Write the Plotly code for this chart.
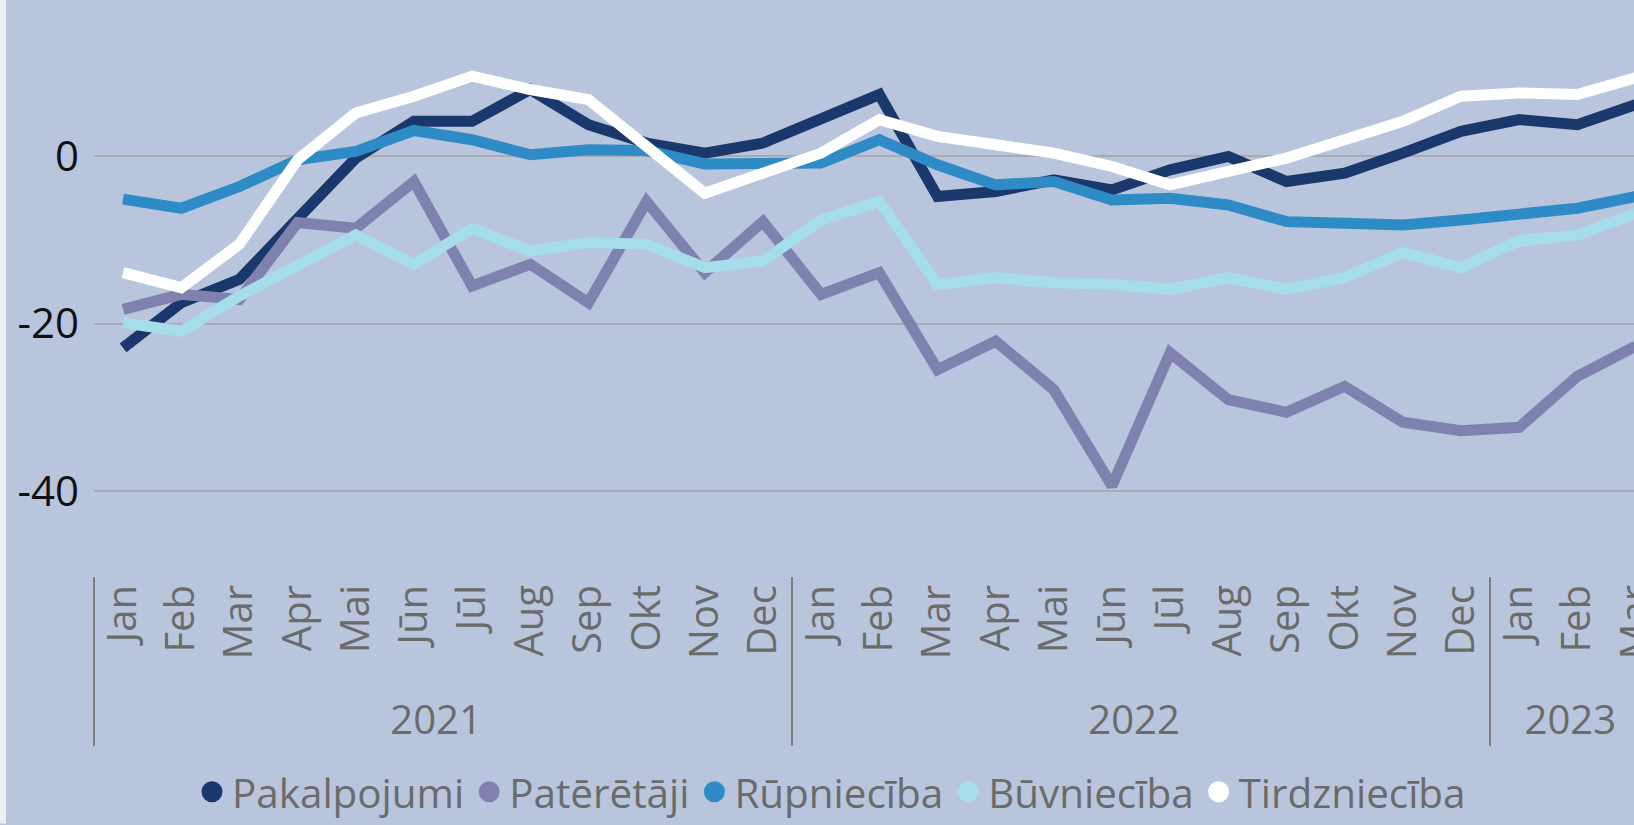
import plotly.graph_objects as go

# Month and year labels for the multicategory x axis (Jan 2021 .. Mar 2023)
MONTHS = ["Jan", "Feb", "Mar", "Apr", "Mai", "Jūn", "Jūl", "Aug", "Sep", "Okt", "Nov", "Dec"]
YEARS = ["2021"] * 12 + ["2022"] * 12 + ["2023"] * 3
MONTH_LABELS = MONTHS + MONTHS + MONTHS[:3]

pakalpojumi = [-22.9, -17.5, -14.7, -7.4, -0.2, 4.2, 4.2, 8.0, 3.8, 1.6, 0.4, 1.6,
               4.4, 7.4, -4.8, -4.2, -2.8, -4.0, -1.6, 0.0, -3.0, -2.0, 0.4, 3.0,
               4.4, 3.8, 6.2]
pateretaji = [-18.3, -16.5, -17.1, -7.9, -8.6, -3.0, -15.5, -12.9, -17.5, -5.4, -13.9, -7.8,
              -16.5, -13.9, -25.5, -22.1, -27.9, -39.4, -23.5, -29.1, -30.6, -27.5, -31.8, -32.8,
              -32.4, -26.3, -22.7]
rupnieciba = [-5.1, -6.2, -3.6, -0.4, 0.6, 3.1, 2.0, 0.2, 0.8, 0.7, -0.9, -1.0,
              -0.8, 2.0, -1.0, -3.4, -3.0, -5.2, -5.0, -5.8, -7.8, -8.0, -8.2, -7.6,
              -6.8, -6.2, -4.8]
buvnieciba = [-19.9, -20.9, -16.7, -13.1, -9.4, -12.9, -8.6, -11.3, -10.3, -10.5, -13.3, -12.5,
              -7.6, -5.4, -15.3, -14.5, -15.1, -15.3, -15.9, -14.5, -15.9, -14.5, -11.5, -13.3,
              -10.1, -9.4, -6.8]
tirdznieciba = [-13.9, -15.7, -10.5, -0.4, 5.2, 7.2, 9.6, 8.0, 6.8, 1.2, -4.4, -2.0,
                0.4, 4.4, 2.4, 1.4, 0.4, -1.2, -3.4, -1.8, -0.2, 2.0, 4.2, 7.2,
                7.6, 7.4, 9.4]

SERIES = [
    ("Pakalpojumi", pakalpojumi, "#1B386C"),
    ("Patērētāji", pateretaji, "#7F82AE"),
    ("Rūpniecība", rupnieciba, "#2E8BC6"),
    ("Būvniecība", buvnieciba, "#A6DDEA"),
    ("Tirdzniecība", tirdznieciba, "#FFFFFF"),
]

Y_TICKS = [-40, -20, 0]
Y_TICK_TEXT = ["-40", "-20", "0"]

BG = "#B9C5DD"
FONT = "Open Sans"
GREY_TEXT = "#6B6B6B"

# The original is a cropped view: the chart runs past the right edge of the
# 1634 px window, so the figure is drawn wider and the overflow is hidden.
FIG_W = 1670
FIG_H = 825
MARGIN_L = 94
MARGIN_B = 248
PLOT_W = FIG_W - MARGIN_L
PLOT_H = FIG_H - MARGIN_B

fig = go.Figure()
for tName, tValues, tColor in SERIES:
    fig.add_trace(
        go.Scatter(
            x=[YEARS, MONTH_LABELS],
            y=tValues,
            mode="lines",
            name=tName,
            line=dict(color=tColor, width=11),
            showlegend=False,
        )
    )
# Legend-only entries so the legend shows round dots like the original
for tName, _, tColor in SERIES:
    fig.add_trace(
        go.Scatter(
            x=[None], y=[None],
            mode="markers",
            name=tName,
            marker=dict(color=tColor, size=16, symbol="circle",
                        line=dict(color=tColor, width=5)),
        )
    )

fig.update_layout(
    width=FIG_W,
    height=FIG_H,
    paper_bgcolor=BG,
    plot_bgcolor=BG,
    margin=dict(l=MARGIN_L, r=0, t=0, b=MARGIN_B),
    font=dict(family=FONT, size=40, color=GREY_TEXT),
    legend=dict(
        orientation="h",
        x=(192 - MARGIN_L) / PLOT_W,
        xanchor="left",
        y=-(794 - PLOT_H) / PLOT_H,
        yanchor="middle",
        font=dict(size=40.4, color=GREY_TEXT),
        bgcolor="rgba(0,0,0,0)",
        itemsizing="trace",
    ),
    shapes=[
        # light page strip at the very left edge of the screenshot
        dict(type="rect", xref="paper", yref="paper",
             x0=-MARGIN_L / PLOT_W, x1=-(MARGIN_L - 6) / PLOT_W,
             y0=-MARGIN_B / PLOT_H, y1=1.0,
             fillcolor="#EEEFF0", line=dict(width=0), layer="below"),
    ],
)
fig.update_xaxes(
    type="multicategory",
    range=[-0.5, -0.5 + PLOT_W / 58.17],
    showgrid=False,
    showline=False,
    zeroline=False,
    ticks="",
    tickangle=-90,
    tickfont=dict(size=40, color=GREY_TEXT, family=FONT),
    ticklabeloverflow="allow",
    showdividers=True,
    dividercolor="#7F7F7F",
    dividerwidth=2,
)
fig.update_yaxes(
    range=[-(PLOT_H - 156.7) / 8.375, 156.7 / 8.375],
    tickvals=Y_TICKS,
    ticktext=Y_TICK_TEXT,
    tickfont=dict(size=42, color="#111111", family=FONT),
    showgrid=True,
    gridcolor="#A9ABAF",
    gridwidth=2,
    zeroline=False,
    showline=False,
    ticks="",
    ticklabelstandoff=14,
)

fig.write_html(
    "out.html",
    config={"displayModeBar": False},
    post_script="document.body.style.margin='0';document.body.style.overflow='hidden';",
)
